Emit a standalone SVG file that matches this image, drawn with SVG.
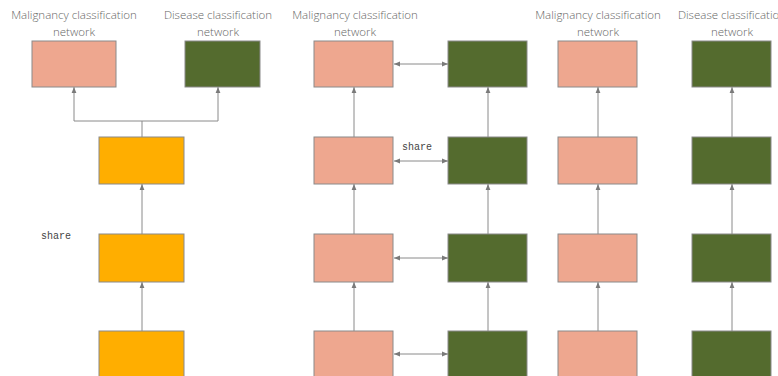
<svg xmlns="http://www.w3.org/2000/svg" width="778" height="376" viewBox="0 0 778 376">
<defs>
<marker id="ah" viewBox="0 0 10 10" refX="10" refY="5" markerWidth="6" markerHeight="6" orient="auto-start-reverse" markerUnits="userSpaceOnUse">
<path d="M0,1 L10,5 L0,9 z" fill="#7a7a7a"/>
</marker>
<style>
.p{fill:#EEA78F;stroke:#8a8a8a;stroke-width:1}
.g{fill:#546B2E;stroke:#8a8a8a;stroke-width:1}
.y{fill:#FFAE00;stroke:#8a8a8a;stroke-width:1}
.lbl{font-family:"Open Sans","Noto Sans",sans-serif;font-size:11.5px;fill:#666;text-anchor:middle;font-weight:300}
.sh{font-family:"Liberation Mono","DejaVu Sans Mono",monospace;font-size:10px;fill:#444}
.c{stroke:#8a8a8a;stroke-width:1;fill:none}
.a{marker-end:url(#ah)}
.d{marker-start:url(#ah);marker-end:url(#ah)}
</style>
</defs>
<rect width="778" height="376" fill="#fff"/>
<g id="labels">
<text class="lbl" x="74" y="19">Malignancy classification</text>
<text class="lbl" x="74" y="36">network</text>
<text class="lbl" x="218" y="19">Disease classification</text>
<text class="lbl" x="218" y="36">network</text>
<text class="lbl" x="355" y="19">Malignancy classification</text>
<text class="lbl" x="355" y="36">network</text>
<text class="lbl" x="598" y="19">Malignancy classification</text>
<text class="lbl" x="598" y="36">network</text>
<text class="lbl" x="732" y="19">Disease classification</text>
<text class="lbl" x="732" y="36">network</text>
<text class="sh" x="41" y="239">share</text>
<text class="sh" x="402" y="150">share</text>
</g>
<g id="connectors">
<polyline class="c" points="142,137 142,121"/>
<polyline class="c a" points="142,121 74,121 74,87"/>
<polyline class="c a" points="142,121 218,121 218,87"/>
<line class="c a" x1="142" y1="234" x2="142" y2="184"/>
<line class="c a" x1="142" y1="331" x2="142" y2="282"/>
<line class="c a" x1="354" y1="137" x2="354" y2="87"/>
<line class="c a" x1="354" y1="234" x2="354" y2="184"/>
<line class="c a" x1="354" y1="331" x2="354" y2="282"/>
<line class="c a" x1="488" y1="137" x2="488" y2="87"/>
<line class="c a" x1="488" y1="234" x2="488" y2="184"/>
<line class="c a" x1="488" y1="331" x2="488" y2="282"/>
<line class="c d" x1="394" y1="64" x2="448" y2="64"/>
<line class="c d" x1="394" y1="161" x2="448" y2="161"/>
<line class="c d" x1="394" y1="258" x2="448" y2="258"/>
<line class="c d" x1="394" y1="354" x2="448" y2="354"/>
<line class="c a" x1="598" y1="137" x2="598" y2="87"/>
<line class="c a" x1="598" y1="234" x2="598" y2="184"/>
<line class="c a" x1="598" y1="331" x2="598" y2="282"/>
<line class="c a" x1="732" y1="137" x2="732" y2="87"/>
<line class="c a" x1="732" y1="234" x2="732" y2="184"/>
<line class="c a" x1="732" y1="331" x2="732" y2="282"/>
</g>
<g id="n1"><rect class="p" x="32" y="41" width="84" height="46"/></g>
<g id="n2"><rect class="g" x="185" y="41" width="75" height="46"/></g>
<g id="n3"><rect class="y" x="99" y="137" width="85" height="47"/></g>
<g id="n4"><rect class="y" x="99" y="234" width="85" height="48"/></g>
<g id="n5"><rect class="y" x="99" y="331" width="85" height="50"/></g>
<g id="n6"><rect class="p" x="314" y="41" width="79" height="46"/></g>
<g id="n7"><rect class="g" x="448" y="41" width="79" height="46"/></g>
<g id="n8"><rect class="p" x="314" y="137" width="79" height="47"/></g>
<g id="n9"><rect class="g" x="448" y="137" width="79" height="47"/></g>
<g id="n10"><rect class="p" x="314" y="234" width="79" height="48"/></g>
<g id="n11"><rect class="g" x="448" y="234" width="79" height="48"/></g>
<g id="n12"><rect class="p" x="314" y="331" width="79" height="50"/></g>
<g id="n13"><rect class="g" x="448" y="331" width="79" height="50"/></g>
<g id="n14"><rect class="p" x="558" y="41" width="79" height="46"/></g>
<g id="n15"><rect class="g" x="692" y="41" width="79" height="46"/></g>
<g id="n16"><rect class="p" x="558" y="137" width="79" height="47"/></g>
<g id="n17"><rect class="g" x="692" y="137" width="79" height="47"/></g>
<g id="n18"><rect class="p" x="558" y="234" width="79" height="48"/></g>
<g id="n19"><rect class="g" x="692" y="234" width="79" height="48"/></g>
<g id="n20"><rect class="p" x="558" y="331" width="79" height="50"/></g>
<g id="n21"><rect class="g" x="692" y="331" width="79" height="50"/></g>
</svg>
